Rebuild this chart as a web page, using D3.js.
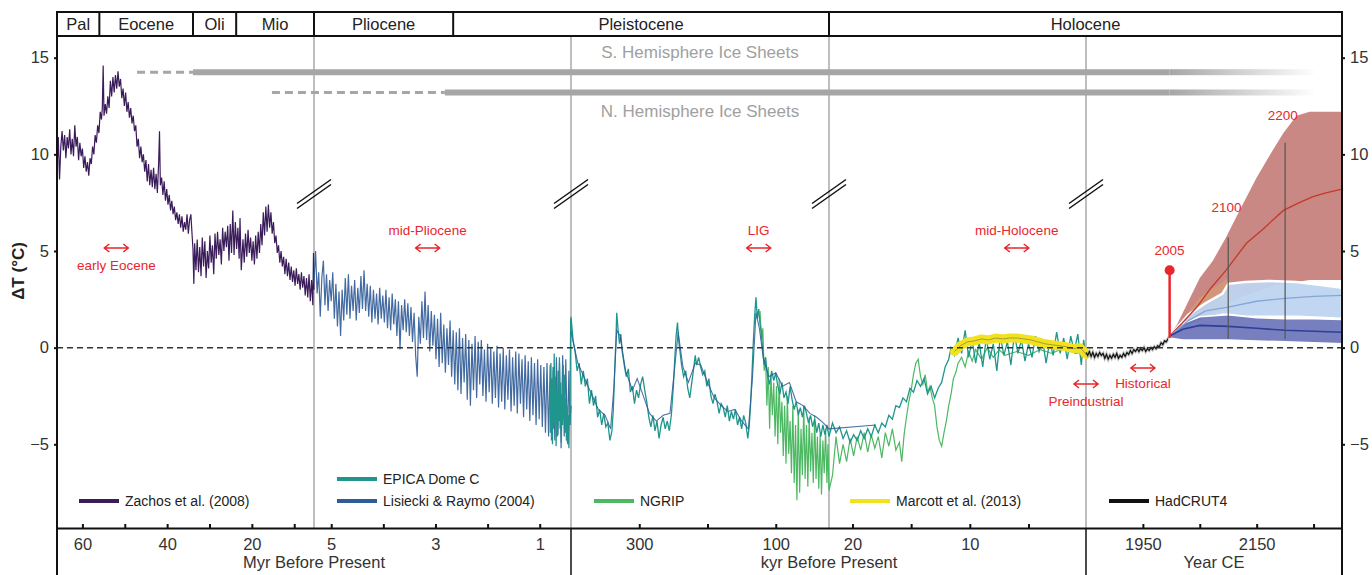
<!DOCTYPE html>
<html>
<head>
<meta charset="utf-8">
<title>Global temperature, 65 Myr to 2300 CE</title>
<style>
  body { margin: 0; background: #fff; }
  svg { font-family: "Liberation Sans", Arial, Helvetica, sans-serif; }
</style>
</head>
<body>
<script src="https://d3js.org/d3.v7.min.js"></script>
<script>

// ---------- data ----------
// epochs of the header strip, boundaries in kyr before present
var epochNames = ["Pal", "Eocene", "Oli", "Mio", "Pliocene", "Pleistocene", "Holocene"];
var epochBounds = [66000, 56000, 33900, 23700, 5330, 2660, 22, -0.35];

// Zachos et al. (2008), [Myr, dT]
var zachos = [[66.0,9.2],[65.7,10.9],[65.4,8.7],[65.1,10.4],[64.8,11.2],[64.5,10.2],[64.2,11.0],[63.9,9.8],[63.6,10.9],[63.3,10.3],[63.0,11.3],[62.7,10.0],[62.4,10.8],[62.1,9.9],[61.8,11.5],[61.5,10.4],[61.2,10.9],[60.9,9.7],[60.6,10.6],[60.3,9.9],[60.0,10.3],[59.7,9.3],[59.4,9.9],[59.1,9.1],[58.8,9.6],[58.5,8.9],[58.2,9.8],[57.9,9.5],[57.6,10.4],[57.3,10.0],[57.0,11.0],[56.7,10.6],[56.4,11.5],[56.1,11.1],[55.8,12.2],[55.5,11.8],[55.3,12.4],[55.1,14.6],[54.9,12.0],[54.6,12.6],[54.3,12.1],[54.0,13.0],[53.7,12.4],[53.4,13.8],[53.1,13.0],[52.8,14.0],[52.5,13.2],[52.2,14.1],[51.9,13.4],[51.6,14.3],[51.3,13.5],[51.0,13.9],[50.7,12.9],[50.4,13.4],[50.1,12.5],[49.8,13.2],[49.5,12.2],[49.2,12.7],[48.9,11.9],[48.6,12.4],[48.3,11.6],[48.0,12.0],[47.7,11.2],[47.4,11.5],[47.1,10.4],[46.8,10.8],[46.5,9.8],[46.2,10.4],[45.9,9.6],[45.6,10.0],[45.3,9.1],[45.0,9.7],[44.7,8.6],[44.4,9.5],[44.1,8.4],[43.8,9.2],[43.5,8.3],[43.2,9.3],[42.9,8.2],[42.6,9.0],[42.3,8.0],[42.0,9.6],[41.8,11.2],[41.6,8.4],[41.3,8.8],[41.0,7.9],[40.7,8.6],[40.4,7.6],[40.1,8.2],[39.8,7.4],[39.5,7.9],[39.2,7.1],[38.9,7.6],[38.6,6.9],[38.3,7.3],[38.0,6.6],[37.7,7.0],[37.4,6.4],[37.1,6.9],[36.8,6.2],[36.5,6.8],[36.2,6.0],[35.9,6.5],[35.6,6.1],[35.3,6.9],[35.0,5.9],[34.7,6.6],[34.4,6.9],[34.1,5.8],[33.9,5.1],[33.7,3.3],[33.5,5.4],[33.2,4.0],[32.9,5.6],[32.6,3.9],[32.3,5.2],[32.0,3.7],[31.7,5.7],[31.4,4.2],[31.1,5.5],[30.8,3.6],[30.5,5.0],[30.2,4.1],[29.9,5.8],[29.6,4.4],[29.3,5.3],[29.0,3.8],[28.7,5.9],[28.4,4.6],[28.1,6.0],[27.8,4.8],[27.5,5.6],[27.2,4.3],[26.9,6.2],[26.6,5.0],[26.3,6.0],[26.0,5.2],[25.7,6.3],[25.4,4.5],[25.1,6.4],[24.8,4.9],[24.5,7.1],[24.2,4.8],[23.9,6.5],[23.6,5.1],[23.3,6.2],[23.0,4.6],[22.8,6.7],[22.5,4.0],[22.1,5.6],[21.8,4.4],[21.5,5.9],[21.2,4.7],[20.9,6.1],[20.6,4.9],[20.3,5.7],[20.0,4.5],[19.7,5.5],[19.4,4.3],[19.1,5.8],[18.8,4.6],[18.5,6.0],[18.2,4.9],[17.9,6.4],[17.6,5.3],[17.3,7.0],[17.0,5.8],[16.7,7.3],[16.4,6.0],[16.1,7.4],[15.8,6.2],[15.5,7.0],[15.2,5.9],[14.9,6.5],[14.6,5.4],[14.3,5.8],[14.0,4.9],[13.7,5.3],[13.4,4.4],[13.1,5.0],[12.8,4.2],[12.5,4.7],[12.2,3.8],[11.9,4.6],[11.6,3.7],[11.3,4.4],[11.0,3.5],[10.7,4.2],[10.4,3.4],[10.1,4.0],[9.8,3.2],[9.5,4.1],[9.2,3.3],[8.9,3.8],[8.6,3.0],[8.3,3.9],[8.0,3.1],[7.7,3.7],[7.4,2.7],[7.1,3.6],[6.8,2.6],[6.5,3.8],[6.2,2.4],[5.9,3.5],[5.6,2.2],[5.45,4.9],[5.33,3.0]];

// Lisiecki & Raymo (2004), [Myr, dT]
var lr04 = [[5.33,3.4],[5.30,5.0],[5.27,2.8],[5.24,3.9],[5.21,1.6],[5.18,3.6],[5.15,4.5],[5.12,2.2],[5.09,3.8],[5.06,1.9],[5.03,3.5],[5.00,2.4],[4.97,3.9],[4.94,1.5],[4.91,3.3],[4.88,1.1],[4.85,2.9],[4.82,0.6],[4.79,3.0],[4.76,1.4],[4.73,3.6],[4.70,1.7],[4.67,3.8],[4.64,1.5],[4.61,3.2],[4.58,1.9],[4.55,3.5],[4.52,1.4],[4.49,3.1],[4.46,1.8],[4.43,3.7],[4.40,2.0],[4.37,4.0],[4.34,1.9],[4.31,3.3],[4.28,1.6],[4.25,3.2],[4.22,1.3],[4.19,3.0],[4.16,1.5],[4.13,2.8],[4.10,1.2],[4.07,3.1],[4.04,1.5],[4.01,2.7],[3.98,1.3],[3.95,3.0],[3.92,1.0],[3.89,2.6],[3.86,0.9],[3.83,2.8],[3.80,1.2],[3.77,2.5],[3.74,0.6],[3.71,2.4],[3.68,-0.1],[3.65,2.2],[3.62,0.9],[3.59,2.5],[3.56,0.8],[3.53,2.3],[3.50,0.6],[3.47,2.1],[3.44,0.3],[3.41,1.8],[3.38,-0.4],[3.35,-1.5],[3.32,1.6],[3.29,0.2],[3.26,2.4],[3.23,0.5],[3.20,2.9],[3.17,0.4],[3.14,2.2],[3.11,-0.2],[3.08,1.9],[3.05,0.1],[3.02,1.7],[2.99,-0.6],[2.96,1.5],[2.93,-1.0],[2.90,1.8],[2.87,-0.8],[2.84,1.2],[2.81,-1.3],[2.78,1.0],[2.75,-0.9],[2.72,1.4],[2.69,-1.5],[2.66,0.9],[2.63,-1.9],[2.60,0.8],[2.57,-2.2],[2.54,1.0],[2.51,-2.4],[2.48,0.5],[2.45,-1.8],[2.42,0.7],[2.39,-2.7],[2.36,0.4],[2.33,-3.0],[2.30,0.2],[2.27,-2.2],[2.24,0.6],[2.21,-2.6],[2.18,0.3],[2.15,-1.9],[2.12,0.4],[2.09,-2.5],[2.06,-0.1],[2.03,-2.8],[2.00,0.2],[1.97,-2.3],[1.94,0.0],[1.91,-2.9],[1.88,-0.2],[1.85,-2.6],[1.82,0.1],[1.79,-3.1],[1.76,-0.3],[1.73,-2.8],[1.70,0.0],[1.67,-3.2],[1.64,-0.4],[1.61,-2.7],[1.58,-0.1],[1.55,-3.3],[1.52,-0.5],[1.49,-3.0],[1.46,-0.2],[1.43,-3.4],[1.40,-0.3],[1.37,-2.9],[1.34,-0.6],[1.31,-3.6],[1.28,-0.4],[1.25,-3.2],[1.22,-0.7],[1.19,-3.8],[1.16,-0.5],[1.13,-3.5],[1.10,-0.8],[1.07,-4.0],[1.04,-0.6],[1.01,-3.7],[0.98,-0.9],[0.95,-4.1],[0.92,-1.0],[0.89,-4.4],[0.86,-0.8],[0.83,-4.6],[0.80,-0.9],[0.77,-4.2],[0.74,-1.2],[0.71,-4.8],[0.68,-0.5],[0.65,-4.5],[0.62,-0.8],[0.59,-5.2],[0.56,-0.4],[0.53,-4.6],[0.50,-0.6],[0.47,-4.9],[0.44,-1.2],[0.42,-4.0],[0.40,-3.0]];

// LR04 through the last 400 kyr, [kyr, dT]
var lr04Late = [[400,0.8],[390,-0.8],[380,-1.6],[370,-2.4],[360,-3.2],[350,-3.5],[342,-4.2],[337,-2.0],[333,0.9],[328,0.6],[320,-1.2],[310,-2.2],[303,-1.6],[296,-2.3],[285,-3.4],[275,-3.8],[265,-3.5],[255,-3.4],[248,-1.0],[243,0.8],[236,-1.0],[228,-1.8],[218,-0.8],[210,-0.9],[200,-1.8],[190,-2.6],[180,-3.0],[170,-3.3],[160,-3.2],[150,-3.8],[140,-4.2],[134,-1.5],[129,1.8],[124,1.0],[118,-0.6],[110,-1.5],[100,-1.3],[90,-2.0],[80,-1.8],[70,-2.8],[60,-3.0],[50,-3.4],[40,-3.6],[30,-3.9],[22,-4.2],[18,-4.0]];

// EPICA Dome C, [kyr, dT]
var epica = [[805,-2.0],[795,-4.4],[785,-0.8],[775,-4.8],[765,-1.6],[755,-5.0],[745,-1.0],[735,-4.2],[722,-0.3],[710,-3.9],[698,-1.5],[686,-5.1],[672,-2.2],[660,-4.6],[648,-1.2],[636,-3.8],[622,-0.5],[610,-4.2],[598,-1.8],[585,-4.9],[572,-2.4],[560,-4.0],[548,-0.9],[536,-3.7],[524,-1.4],[512,-4.4],[500,-2.6],[488,-4.8],[476,-3.0],[464,-5.0],[452,-3.5],[440,-5.2],[430,-3.0],[420,-4.0],[412,-0.5],[406,1.5],[402,0.6],
  [400,1.6],[397,0.4],[394,-0.2],[391,-1.2],[388,-0.8],[385,-1.9],[382,-1.2],[379,-2.0],[376,-1.6],[373,-2.9],[370,-2.2],[367,-3.0],[364,-2.5],[361,-3.6],[358,-3.2],[355,-4.0],[352,-3.4],[349,-4.1],[346,-3.9],[343,-4.8],[340,-4.3],[338,-3.2],[336,-1.2],[334,0.6],[333,1.8],[331,0.9],[329,0.2],[327,0.7],[325,-0.2],[322,-0.9],[319,-1.5],[316,-1.1],[313,-2.3],[310,-2.0],[307,-2.9],[304,-2.2],[301,-2.6],[298,-1.9],[295,-1.5],[292,-2.2],[289,-2.8],[286,-3.6],[283,-4.1],[280,-3.5],[277,-4.3],[274,-3.8],[271,-4.7],[268,-4.0],[265,-3.6],[262,-4.2],[259,-3.8],[256,-4.3],[253,-3.5],[250,-2.0],[248,-0.6],[246,0.6],[244,1.3],[242,0.3],[240,-0.3],[238,-0.9],[235,-1.5],[232,-1.2],[229,-2.1],[226,-2.6],[223,-1.8],[220,-1.0],[218,-0.4],[216,-0.9],[213,-0.5],[210,-1.0],[207,-1.4],[204,-1.2],[201,-2.0],[198,-1.6],[195,-2.5],[192,-2.9],[189,-2.4],[186,-2.8],[183,-3.4],[180,-2.9],[177,-3.1],[174,-3.6],[171,-3.0],[168,-3.8],[165,-3.3],[162,-3.7],[159,-3.2],[156,-4.0],[153,-3.6],[150,-4.2],[147,-3.5],[144,-3.9],[141,-4.7],[139,-4.1],[137,-3.0],[135,-1.5],[133,0.2],[131,1.6],[129,2.6],[127,1.5],[125,2.0],[123,1.2],[121,0.8],[119,-0.2],[117,-0.9],[115,-0.5],[112,-1.5],[109,-1.9],[106,-1.2],[103,-1.7],[100,-1.3],[97,-2.0],[94,-2.4],[91,-1.8],[88,-2.6],[85,-2.3],[82,-2.9],[79,-2.0],[76,-2.7],[73,-3.2],[70,-2.8],[67,-3.5],[64,-3.1],[61,-3.6],[58,-3.0],[55,-3.4],[52,-3.9],[49,-3.5],[46,-4.1],[43,-3.7],[40,-4.4],[37,-3.9],[34,-4.6],[31,-4.0],[28,-4.5],[25,-4.0],[22,-4.6],
  [21.7,-3.9],[21.4,-4.4],[21.1,-4.1],[20.8,-4.7],[20.5,-4.3],[20.2,-4.9],[19.9,-4.5],[19.6,-4.8],[19.3,-4.3],[19.0,-4.7],[18.7,-4.2],[18.4,-4.6],[18.1,-4.0],[17.8,-4.4],[17.5,-3.9],[17.2,-4.1],[16.9,-3.5],[16.6,-3.7],[16.3,-3.0],[16.0,-3.1],[15.7,-2.6],[15.4,-2.8],[15.1,-2.1],[14.8,-2.3],[14.5,-1.7],[14.2,-2.0],[13.9,-1.6],[13.6,-2.4],[13.3,-2.0],[13.0,-2.6],[12.7,-2.1],[12.4,-1.8],[12.1,-1.0],[11.8,-0.6],[11.6,0.0],[11.3,-0.4],[11.0,0.5],[10.7,-0.3],[10.4,0.9],[10.1,-0.5],[9.8,0.4],[9.5,-0.8],[9.2,0.3],[8.9,-1.0],[8.6,0.5],[8.3,-0.6],[8.0,0.2],[7.7,-1.2],[7.4,0.6],[7.1,-0.4],[6.8,0.3],[6.5,-0.9],[6.2,0.7],[5.9,-0.3],[5.6,0.4],[5.3,-0.7],[5.0,0.2],[4.7,-0.5],[4.4,0.6],[4.1,-0.2],[3.8,0.4],[3.5,-0.8],[3.2,0.3],[2.9,-0.4],[2.6,0.8],[2.3,-0.3],[2.0,0.5],[1.7,-0.6],[1.4,0.6],[1.1,-0.2],[0.8,0.7],[0.5,-0.9],[0.3,0.4],[0.1,-0.5]];

// NGRIP, [kyr, dT]
var ngrip = [[123,1.9],[121,0.4],[119,1.0],[117,-1.2],[115,-0.5],[113,-3.0],[111,-1.0],[109,-4.2],[107,-1.4],[105,-3.5],[103,-1.8],[101,-4.6],[99,-2.0],[97,-5.0],[95,-1.6],[93,-4.4],[91,-2.8],[89,-5.6],[87,-3.0],[85,-6.0],[83,-2.5],[81,-5.5],[79,-3.8],[77,-6.5],[75,-3.0],[73,-7.0],[71,-4.0],[69,-7.9],[67,-3.2],[65,-7.5],[63,-4.2],[61,-6.6],[59,-3.0],[57,-6.8],[55,-4.0],[53,-7.2],[51,-3.6],[49,-6.4],[47,-4.4],[45,-7.0],[43,-3.5],[41,-6.8],[39,-4.6],[37,-7.3],[35,-4.5],[33,-7.6],[31,-4.8],[29,-6.5],[27,-4.2],[25,-7.0],[23.5,-5.0],[22,-7.4],[21.7,-6.6],[21.4,-4.6],[21.1,-6.0],[20.8,-5.0],[20.5,-5.9],[20.2,-4.7],[19.9,-5.6],[19.6,-4.6],[19.3,-5.3],[19.0,-4.4],[18.7,-5.4],[18.4,-4.5],[18.1,-5.2],[17.8,-4.6],[17.5,-5.7],[17.2,-4.4],[16.9,-5.1],[16.6,-4.2],[16.3,-5.3],[16.0,-4.9],[15.8,-5.9],[15.6,-4.5],[15.4,-3.6],[15.2,-2.8],[15.0,-2.2],[14.8,-1.4],[14.6,-0.8],[14.4,-0.6],[14.2,-1.5],[14.0,-1.9],[13.8,-1.4],[13.6,-2.3],[13.4,-2.0],[13.2,-2.6],[13.0,-3.0],[12.8,-4.1],[12.6,-4.8],[12.4,-5.1],[12.2,-4.4],[12.0,-3.8],[11.8,-3.0],[11.6,-2.4],[11.4,-1.6],[11.2,-1.3],[11.0,-0.8],[10.7,-0.5],[10.4,-1.0],[10.1,-0.2],[9.8,-0.7],[9.5,-0.1],[9.0,-0.6],[8.5,0.0],[8.0,-0.5],[7.5,-0.1],[7.0,-0.4],[6.0,-0.2],[5.0,-0.4],[4.0,-0.1],[3.0,-0.3],[2.0,0.0],[1.0,-0.3],[0.1,-0.2]];

// Marcott et al. (2013), [kyr, dT]
var marcott = [[11.3,-0.2],[10.8,0.1],[10.2,0.3],[9.6,0.35],[9.0,0.45],[8.4,0.4],[7.8,0.5],[7.2,0.45],[6.6,0.5],[6.0,0.5],[5.4,0.45],[4.8,0.4],[4.2,0.3],[3.6,0.2],[3.0,0.15],[2.4,0.1],[1.8,0.05],[1.2,-0.05],[0.6,0.0],[0.1,-0.35]];

// HadCRUT4, [year CE, dT]
var hadcrut = [[1850,-0.25],[1853,-0.4],[1856,-0.2],[1859,-0.45],[1862,-0.25],[1865,-0.5],[1868,-0.3],[1871,-0.45],[1874,-0.25],[1877,-0.4],[1880,-0.3],[1883,-0.55],[1886,-0.35],[1889,-0.6],[1892,-0.4],[1895,-0.55],[1898,-0.35],[1901,-0.5],[1904,-0.3],[1907,-0.55],[1910,-0.4],[1913,-0.5],[1916,-0.3],[1919,-0.45],[1922,-0.25],[1925,-0.35],[1928,-0.15],[1931,-0.3],[1934,-0.1],[1937,-0.2],[1940,-0.05],[1943,-0.2],[1946,-0.05],[1949,-0.15],[1952,0.0],[1955,-0.2],[1958,-0.05],[1961,-0.15],[1964,0.0],[1967,-0.1],[1970,0.05],[1973,-0.05],[1976,0.1],[1979,0.05],[1982,0.25],[1985,0.15],[1988,0.35],[1991,0.3],[1994,0.45],[1997,0.6]];

// projections, [year CE, low, high] and medians [year CE, dT]
var redBand = [[1997,0.5,0.6],[2010,0.8,1.2],[2030,1.0,2.4],[2050,1.4,3.6],[2073,1.8,4.5],[2096,2.2,5.7],[2120,2.6,7.1],[2150,2.9,8.8],[2178,3.2,10.2],[2197,3.3,11.1],[2220,3.4,12.0],[2243,3.5,12.2],[2300,3.5,12.2]];
var tanBand = [[1997,0.55,0.6],[2050,1.5,2.6],[2100,2.0,3.6]];
var lightBand = [[1997,0.5,0.6],[2030,1.1,1.7],[2060,1.5,2.3],[2090,1.7,2.8],[2100,1.7,3.3],[2130,1.6,3.4],[2170,1.6,3.45],[2220,1.6,3.4],[2260,1.55,3.25],[2300,1.5,3.1]];
var darkBand = [[1997,0.5,0.6],[2020,0.4,1.25],[2050,0.4,1.6],[2100,0.4,1.7],[2150,0.35,1.55],[2200,0.3,1.5],[2250,0.25,1.5],[2300,0.2,1.45]];
var redMedian = [[1997,0.6],[2020,1.3],[2045,2.1],[2070,3.1],[2096,4.0],[2132,5.4],[2160,6.1],[2197,7.1],[2225,7.5],[2248,7.8],[2270,8.0],[2300,8.2]];
var lightMedian = [[1997,0.6],[2030,1.4],[2060,1.9],[2100,2.1],[2150,2.4],[2200,2.55],[2250,2.65],[2300,2.7]];
var darkMedian = [[1997,0.6],[2020,0.95],[2050,1.15],[2100,1.1],[2150,1.0],[2200,0.9],[2300,0.8]];
var markerYears = [2100, 2200];
var markerTops = [5.7, 10.6];

// ice sheets: dashed start, solid start (kyr), level, label level
var iceNames = ["S. Hemisphere Ice Sheets", "N. Hemisphere Ice Sheets"];
var iceDashStart = [47100, 15260];
var iceSolidStart = [33900, 2820];
var iceLevel = [14.25, 13.2];
var iceLabelLevel = [15.3, 12.25];

// period annotations
var periodNames = ["early Eocene", "mid-Pliocene", "LIG", "mid-Holocene", "Preindustrial", "Historical"];
var periodAges = [52000, 3150, 125, 6, 0.1, 0];

// axis ticks
var yTicks = [-5, 0, 5, 10, 15];
var xTicks = [60000,50000,40000,30000,20000,10000,5000,4000,3000,2000,1000,300,200,100,20,15,10,5,0,-0.1,-0.2,-0.3];
var xTickLabels = ["60","","40","","20","","5","","3","","1","300","","100","20","","10","","1950","","2150",""];
var xTitles = ["Myr Before Present", "kyr Before Present", "Year CE"];

var legendNames = ["Zachos et al. (2008)", "EPICA Dome C", "Lisiecki & Raymo (2004)", "NGRIP", "Marcott et al. (2013)", "HadCRUT4"];
var legendColors = ["#3b1c5a", "#1f968b", "#2f5b98", "#4cb862", "#f2e21e", "#111111"];

// ---------- scales ----------
var width = 1372, height = 575;
var plotTop = 36, plotBottom = 528, frameTop = 12;

// age in kyr before 1950 (negative = future), five broken panels
var x = d3.scaleLinear()
  .domain([66000, 5330, 400, 22, 0.1, -0.35])
  .range([57, 314, 571, 829, 1086, 1342]);
var y = d3.scaleLinear().domain([-5, 15]).range([444.3, 57.7]);
var panelEdges = [314, 571, 829, 1086];

function fromMyr(a) { return a.map(function(d){ return [d[0]*1000, d[1]]; }); }
function fromYear(a) { return a.map(function(d){ return [(1950 - d[0]) / 1000].concat(d.slice(1)); }); }
function ageOfYear(yr) { return (1950 - yr) / 1000; }

var line = d3.line().x(function(d){ return x(d[0]); }).y(function(d){ return y(d[1]); });
var area = d3.area().x(function(d){ return x(d[0]); })
  .y0(function(d){ return y(d[1]); }).y1(function(d){ return y(d[2]); });

var red = "#e8262d";

var svg = d3.select("body").append("svg")
  .attr("width", width).attr("height", height);

var defs = svg.append("defs");
defs.append("clipPath").attr("id", "plot")
  .append("rect").attr("x", 57).attr("y", plotTop)
  .attr("width", 1342 - 57).attr("height", plotBottom - plotTop);
var fade = defs.append("linearGradient").attr("id", "fade");
fade.append("stop").attr("offset", "0%").attr("stop-color", "#a4a6a7");
fade.append("stop").attr("offset", "100%").attr("stop-color", "#ffffff");

// panel separators (grey)
svg.selectAll(".sep").data(panelEdges).enter().append("line")
  .attr("x1", function(d){ return d; }).attr("x2", function(d){ return d; })
  .attr("y1", plotTop).attr("y2", plotBottom)
  .attr("stroke", "#a9a9a9").attr("stroke-width", 1.5);

// ice sheets
var ice = svg.append("g");
iceNames.forEach(function(name, i) {
  var yy = y(iceLevel[i]);
  ice.append("line").attr("x1", x(iceDashStart[i])).attr("x2", x(iceSolidStart[i]))
    .attr("y1", yy).attr("y2", yy)
    .attr("stroke", "#a4a6a7").attr("stroke-width", 3).attr("stroke-dasharray", "8,5");
  ice.append("line").attr("x1", x(iceSolidStart[i])).attr("x2", x(ageOfYear(1997)))
    .attr("y1", yy).attr("y2", yy)
    .attr("stroke", "#a4a6a7").attr("stroke-width", 6);
  ice.append("rect").attr("x", x(ageOfYear(1997))).attr("y", yy - 3)
    .attr("width", x(ageOfYear(2255)) - x(ageOfYear(1997))).attr("height", 6)
    .attr("fill", "url(#fade)");
  ice.append("text").attr("x", 700).attr("y", y(iceLabelLevel[i]) + 6)
    .attr("text-anchor", "middle").attr("font-size", 17).attr("fill", "#a0a0a0")
    .text(name);
});

// data
var g = svg.append("g").attr("clip-path", "url(#plot)");
g.append("path").datum(fromMyr(zachos)).attr("d", line)
  .attr("fill", "none").attr("stroke", legendColors[0]).attr("stroke-width", 1.2);
g.append("path").datum(fromMyr(lr04)).attr("d", line)
  .attr("fill", "none").attr("stroke", legendColors[2]).attr("stroke-width", 1.2).attr("stroke-opacity", 0.9);
g.append("path").datum(ngrip).attr("d", line)
  .attr("fill", "none").attr("stroke", legendColors[3]).attr("stroke-width", 1.2);
g.append("path").datum(epica).attr("d", line)
  .attr("fill", "none").attr("stroke", legendColors[1]).attr("stroke-width", 1.3);
g.append("path").datum(lr04Late).attr("d", line)
  .attr("fill", "none").attr("stroke", legendColors[2]).attr("stroke-width", 1.1).attr("stroke-opacity", 0.85);

// zero line
svg.append("line").attr("x1", 57).attr("x2", 1342).attr("y1", y(0)).attr("y2", y(0))
  .attr("stroke", "#333").attr("stroke-width", 1.5).attr("stroke-dasharray", "6,4");

g.append("path").datum(marcott).attr("d", line)
  .attr("fill", "none").attr("stroke", "#f2e21e").attr("stroke-width", 9)
  .attr("stroke-linecap", "round").attr("stroke-linejoin", "round");
g.append("path").datum(marcott).attr("d", line)
  .attr("fill", "none").attr("stroke", "#a89c30").attr("stroke-width", 1);

var had = fromYear(hadcrut);
g.append("path").datum(had).attr("d", line)
  .attr("fill", "none").attr("stroke", "#9a9a9a").attr("stroke-width", 3).attr("stroke-opacity", 0.6);
g.append("path").datum(had).attr("d", line)
  .attr("fill", "none").attr("stroke", "#111").attr("stroke-width", 1.2);

// projections
g.append("path").datum(fromYear(redBand)).attr("d", area).attr("fill", "#b65a55").attr("fill-opacity", 0.72);
g.append("path").datum(fromYear(tanBand)).attr("d", area).attr("fill", "#d9a070").attr("fill-opacity", 0.6);
g.append("path").datum(fromYear(lightBand)).attr("d", area).attr("fill", "#bed4ef").attr("fill-opacity", 0.95)
  .attr("stroke", "#fff").attr("stroke-width", 2.5);
g.append("path").datum(fromYear(darkBand)).attr("d", area).attr("fill", "#5a63b1").attr("fill-opacity", 0.82)
  .attr("stroke", "#fff").attr("stroke-width", 1.5);
g.append("path").datum(fromYear(redMedian)).attr("d", line)
  .attr("fill", "none").attr("stroke", "#c2392c").attr("stroke-width", 1.3);
g.append("path").datum(fromYear(lightMedian)).attr("d", line)
  .attr("fill", "none").attr("stroke", "#86a6d8").attr("stroke-width", 1.3);
g.append("path").datum(fromYear(darkMedian)).attr("d", line)
  .attr("fill", "none").attr("stroke", "#2e3f99").attr("stroke-width", 1.6);

markerYears.forEach(function(yr, i) {
  g.append("line").attr("x1", x(ageOfYear(yr))).attr("x2", x(ageOfYear(yr)))
    .attr("y1", y(markerTops[i])).attr("y2", y(0.45))
    .attr("stroke", "#555").attr("stroke-width", 1.2);
});

// 2005 lollipop (sits at the projection start in the figure)
var x05 = x(ageOfYear(1997));
svg.append("line").attr("x1", x05).attr("x2", x05).attr("y1", y(0.5)).attr("y2", y(4.0))
  .attr("stroke", red).attr("stroke-width", 2.5);
svg.append("circle").attr("cx", x05).attr("cy", y(4.0)).attr("r", 5).attr("fill", red);
var yearLabels = [["2005", x05, 255], ["2100", x(ageOfYear(2097)), 212], ["2200", x(ageOfYear(2196)), 120]];
yearLabels.forEach(function(d) {
  svg.append("text").attr("x", d[1]).attr("y", d[2]).attr("text-anchor", "middle")
    .attr("font-size", 13.5).attr("fill", red).text(d[0]);
});

// break marks
panelEdges.forEach(function(px) {
  [-2.5, 2.5].forEach(function(o) {
    svg.append("line")
      .attr("x1", px - 17).attr("y1", 206 + o).attr("x2", px + 17).attr("y2", 182 + o)
      .attr("stroke", "#111").attr("stroke-width", 1.5);
  });
});

// period arrows and labels
var arrowY = [248, 248, 248, 248, 384, 368];
var labelY = [270, 235, 235, 235, 406, 388];
function arrow(cx, cy) {
  return "M" + (cx - 12) + "," + cy + "H" + (cx + 12) +
    "M" + (cx - 7) + "," + (cy - 4) + "L" + (cx - 12) + "," + cy + "L" + (cx - 7) + "," + (cy + 4) +
    "M" + (cx + 7) + "," + (cy - 4) + "L" + (cx + 12) + "," + cy + "L" + (cx + 7) + "," + (cy + 4);
}
periodNames.forEach(function(name, i) {
  var cx = x(periodAges[i]);
  svg.append("path").attr("d", arrow(cx, arrowY[i]))
    .attr("fill", "none").attr("stroke", red).attr("stroke-width", 1.5);
  svg.append("text").attr("x", cx).attr("y", labelY[i]).attr("text-anchor", "middle")
    .attr("font-size", 13.5).attr("fill", red).text(name);
});

// legend
var legendPos = [[79, 501], [337, 479], [337, 501], [594, 501], [850, 501], [1109, 501]];
legendNames.forEach(function(name, i) {
  var p = legendPos[i];
  svg.append("line").attr("x1", p[0]).attr("x2", p[0] + 40).attr("y1", p[1]).attr("y2", p[1])
    .attr("stroke", legendColors[i]).attr("stroke-width", 4);
  svg.append("text").attr("x", p[0] + 46).attr("y", p[1] + 5)
    .attr("font-size", 14).attr("fill", "#222").text(name);
});

// header strip
var header = svg.append("g");
header.append("rect").attr("x", 57).attr("y", frameTop).attr("width", 1342 - 57)
  .attr("height", plotTop - frameTop).attr("fill", "none").attr("stroke", "#111").attr("stroke-width", 2);
epochNames.forEach(function(name, i) {
  var x0 = x(epochBounds[i]), x1 = x(epochBounds[i + 1]);
  if (i > 0) header.append("line").attr("x1", x0).attr("x2", x0)
    .attr("y1", frameTop).attr("y2", plotTop).attr("stroke", "#111").attr("stroke-width", 2);
  header.append("text").attr("x", (x0 + x1) / 2).attr("y", 30).attr("text-anchor", "middle")
    .attr("font-size", 16.5).attr("fill", "#222").text(name);
});

// axes
var yl = svg.append("g").attr("transform", "translate(57,0)")
  .call(d3.axisLeft(y).tickValues(yTicks).tickSize(3).tickPadding(5));
var yr = svg.append("g").attr("transform", "translate(1342,0)")
  .call(d3.axisRight(y).tickValues(yTicks).tickSize(3).tickPadding(5));
[yl, yr].forEach(function(a) {
  a.select(".domain").remove();
  a.selectAll("text").attr("font-size", 16.5).attr("fill", "#333").attr("font-family", null);
  a.selectAll(".tick line").attr("stroke", "#111").attr("stroke-width", 2);
});

var xa = svg.append("g").attr("transform", "translate(0," + plotBottom + ")")
  .call(d3.axisBottom(x).tickValues(xTicks)
    .tickFormat(function(d, i){ return xTickLabels[i]; })
    .tickSizeInner(-4).tickSizeOuter(0).tickPadding(10));
xa.select(".domain").attr("stroke", "#111").attr("stroke-width", 2);
xa.selectAll(".tick line").attr("stroke", "#111").attr("stroke-width", 2);
xa.selectAll("text").attr("font-size", 16.5).attr("fill", "#333").attr("font-family", null);

var titleX = [314, 829, 1214];
xTitles.forEach(function(t, i) {
  svg.append("text").attr("x", titleX[i]).attr("y", 568).attr("text-anchor", "middle")
    .attr("font-size", 16.5).attr("fill", "#333").text(t);
});

// frame verticals
[57, 1342].forEach(function(px) {
  svg.append("line").attr("x1", px).attr("x2", px).attr("y1", frameTop - 1).attr("y2", height)
    .attr("stroke", "#111").attr("stroke-width", 2);
});
[571, 1086].forEach(function(px) {
  svg.append("line").attr("x1", px).attr("x2", px).attr("y1", plotBottom).attr("y2", height)
    .attr("stroke", "#111").attr("stroke-width", 1.5);
});

svg.append("text").attr("transform", "translate(24,271) rotate(-90)")
  .attr("text-anchor", "middle").attr("font-size", 17).attr("font-weight", "bold")
  .attr("fill", "#222").text("ΔT (°C)");

</script>
</body>
</html>
